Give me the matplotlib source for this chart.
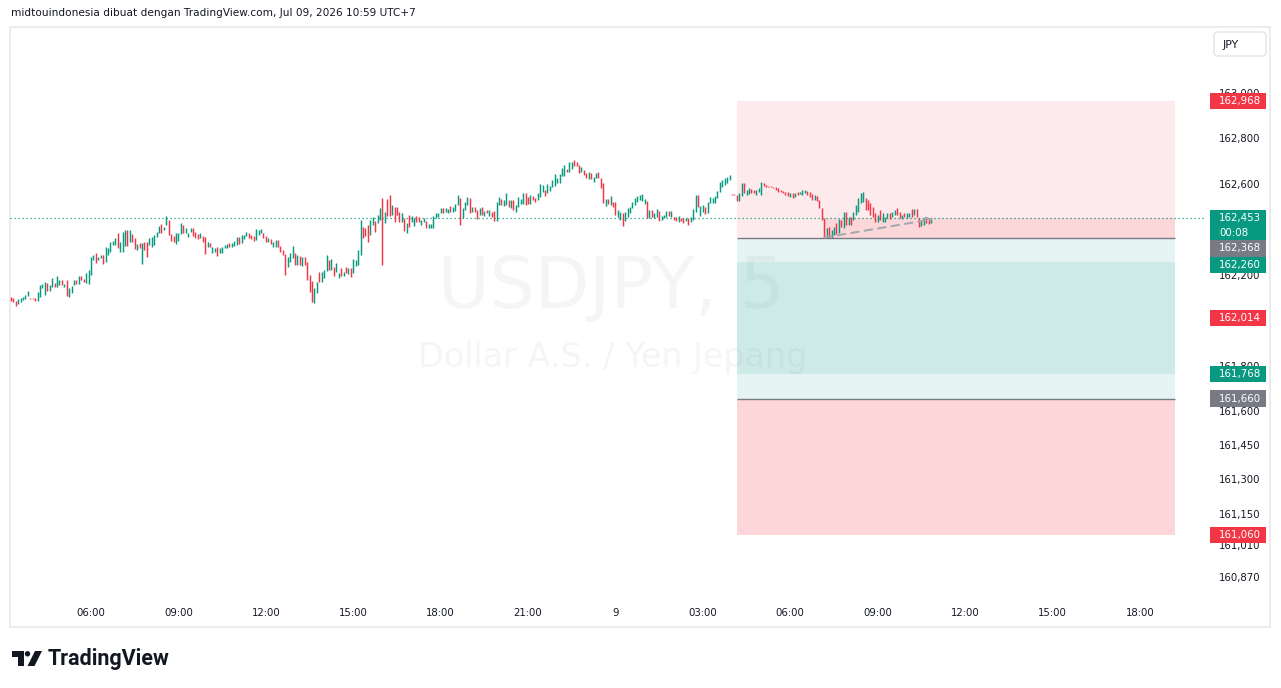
import numpy as np
import matplotlib.pyplot as plt
from matplotlib.patches import Rectangle, FancyBboxPatch, Polygon, Circle

plt.rcParams['font.family'] = ['DejaVu Sans']

W, H = 1281, 688
GREEN = '#089981'
RED = '#f23645'
GRAY = '#787b86'
TXT = '#131722'

# USDJPY 5 min bars, first bar Jul 08 03:15, price = 162 + pts / 1000
BASE = 162.0
oc = [
    (105, 90), (101, 83), (90, 69), (74, 96), (86, 101), (93, 108), (96, 115), (113, 133), (102, 99), (101, 96),
    (101, 90), (90, 127), (108, 159), (145, 162), (115, 174), (170, 133), (133, 159), (152, 192), (167, 152), (149, 199),
    (159, 181), (181, 159), (149, 164), (181, 113), (108, 145), (126, 155), (159, 181), (181, 164), (162, 199), (199, 181),
    (186, 174), (167, 211), (164, 225), (203, 284), (269, 291), (299, 255), (269, 284), (277, 291), (291, 250), (262, 328),
    (291, 321), (306, 350), (335, 353), (335, 367), (386, 321), (306, 350), (306, 394), (332, 401), (401, 332), (350, 401),
    (382, 350), (365, 316), (313, 340), (343, 321), (252, 343), (350, 313), (350, 284), (335, 365), (328, 372), (335, 379),
    (372, 394), (386, 420), (426, 389), (401, 416), (423, 463), (445, 379), (382, 353), (375, 350), (338, 386), (353, 386),
    (384, 433), (423, 386), (389, 408), (372, 389), (391, 408), (408, 376), (394, 365), (384, 362), (365, 386), (376, 350),
    (372, 294), (328, 350), (345, 328), (302, 328), (306, 321), (326, 288), (302, 321), (302, 328), (321, 335), (323, 338),
    (343, 328), (328, 345), (332, 353), (335, 372), (372, 338), (343, 379), (360, 379), (376, 391),
    # 11:30 - 19:30
    (386, 367), (379, 360), (376, 354), (357, 405), (379, 401), (386, 405), (386, 364), (376, 347), (347, 364), (361, 338),
    (328, 350), (328, 357), (357, 328), (331, 306), (313, 291), (294, 203), (240, 284), (262, 298), (279, 331), (298, 247),
    (247, 291), (287, 247), (244, 284), (284, 247), (259, 181), (203, 130), (177, 83), (79, 145), (123, 174), (215, 174),
    (171, 215), (189, 225), (221, 291), (269, 225), (225, 274), (240, 200), (215, 254), (189, 210), (235, 199), (200, 215),
    (240, 210), (206, 233), (233, 196), (210, 274), (244, 269), (247, 313), (291, 445), (416, 367), (411, 375), (423, 350),
    (379, 445), (423, 460), (441, 394), (430, 467), (445, 496), (540, 452), (433, 482), (537, 464), (555, 464), (467, 511),
    (504, 438), (504, 467), (482, 435), (435, 477), (452, 398), (389, 430), (467, 413), (438, 462), (419, 452), (462, 438),
    (460, 438), (423, 445), (438, 452), (442, 408), (408, 426), (408, 426), (411, 462), (452, 477), (460, 477), (474, 496),
    (496, 477), (482, 496), (474, 493), (508, 482), (482, 504), (484, 514), (511, 555), (540, 423), (452, 496), (489, 526),
    (511, 548), (543, 474), (482, 504), (504, 482), (489, 448), (467, 499), (504, 467),
    # 19:30 - 03:30
    (464, 486), (489, 474), (463, 489), (482, 460), (485, 441), (441, 526), (511, 545), (536, 511), (506, 533), (511, 565),
    (533, 504), (496, 533), (533, 489), (482, 511), (504, 548), (514, 536), (514, 565), (562, 511), (548, 514), (514, 555),
    (550, 533), (543, 524), (533, 565), (548, 602), (569, 599), (577, 552), (562, 602), (572, 594), (591, 621), (596, 647),
    (606, 630), (606, 647), (640, 672), (640, 687), (669, 657), (657, 698), (669, 698), (709, 684), (701, 684), (687, 653),
    (657, 679), (665, 643), (650, 631), (625, 654), (653, 625), (613, 635), (628, 653), (657, 628), (628, 587), (606, 518),
    (506, 536), (536, 515), (511, 550), (526, 504), (526, 467), (460, 489), (445, 482), (474, 420), (442, 482), (460, 496),
    (474, 501), (496, 526), (511, 540), (526, 550), (533, 555), (530, 559), (514, 536), (528, 455), (455, 489), (489, 460),
    (455, 474), (460, 493), (485, 442), (445, 464), (452, 467), (460, 485), (485, 464), (460, 485), (460, 445), (460, 441),
    (438, 463), (455, 441), (452, 433), (441, 455), (452, 423), (438, 457), (445, 492), (482, 555), (555, 504), (463, 506),
    (479, 511), (504, 471), (474, 526), (518, 548), (518, 543), (518, 550), (540, 572),
    # 03:35 - 10:55
    (570, 613), (591, 621), (599, 628), (606, 632), (621, 643), (559, 555), (558, 553), (555, 530), (530, 565), (550, 606),
    (606, 562), (555, 577), (558, 584), (580, 565), (577, 562), (555, 577), (570, 584), (555, 610), (606, 594), (599, 591),
    (596, 591), (594, 589), (591, 584), (589, 577), (584, 570), (577, 570), (572, 562), (570, 555), (567, 550), (547, 562),
    (562, 540), (547, 562), (570, 555), (559, 570), (555, 577), (562, 577), (574, 555), (570, 547), (559, 533), (533, 555),
    (550, 530), (533, 496), (496, 445), (452, 364), (364, 408), (416, 364), (364, 401), (379, 413), (430, 383), (386, 448),
    (445, 416), (408, 482), (482, 423), (423, 460), (460, 423), (445, 482), (467, 511), (482, 540), (518, 562), (525, 570),
    (540, 489), (533, 489), (518, 467), (503, 460), (474, 438), (438, 467), (489, 445), (438, 474), (438, 460), (452, 474),
    (474, 448), (460, 482), (467, 489), (496, 467), (482, 452), (448, 467), (477, 457), (452, 474), (457, 477), (492, 460),
    (467, 492), (493, 460), (452, 416), (419, 445), (423, 455), (452, 430), (455, 426), (430, 452),
]
wicks = {153: (247, 540)}  # long lower shadow at 15:30

tick_idx = [33 + 36 * k for k in range(13)]
tick_labels = ['06:00', '09:00', '12:00', '15:00', '18:00', '21:00', '9',
               '03:00', '06:00', '09:00', '12:00', '15:00', '18:00']
# 162,400 and 162,000 sit under the price tags, so they are left out
price_ticks = [163.0, 162.8, 162.6, 162.2, 161.8, 161.6,
               161.45, 161.3, 161.15, 161.01, 160.87]

last_price = 162.453
countdown = '00:08'
short_entry, short_stop, short_target = 162.368, 162.968, 161.768
long_entry, long_target, long_stop = 161.660, 162.260, 161.060
alert_price = 162.014
pos_start, pos_end = 299, 479.5
trade_start = 335
proj_end = (380, 162.449)

y_top, y_bot = 163.2933, 160.7878
x_lo, x_hi = -0.37, 491.8

fig = plt.figure(figsize=(W / 100, H / 100), dpi=100)

deco = fig.add_axes([0, 0, 1, 1])
deco.set_xlim(0, W)
deco.set_ylim(H, 0)
deco.axis('off')

ax = fig.add_axes([10 / W, 1 - 597 / H, 1195 / W, 570 / H])
ax.set_xlim(x_lo, x_hi)
ax.set_ylim(y_bot, y_top)
ax.set_facecolor('none')
for s in ax.spines.values():
    s.set_visible(False)
ax.set_yticks([])
ax.set_xticks(tick_idx, tick_labels)
ax.tick_params(axis='x', length=0, pad=8, labelsize=7.3, labelcolor=TXT)

# watermark
ax.text(0.503, 0.542, 'USDJPY, 5', transform=ax.transAxes, ha='center', va='center',
        fontsize=51, color=TXT, alpha=0.04, zorder=0)
ax.text(0.504, 0.42, 'Dollar A.S. / Yen Jepang', transform=ax.transAxes, ha='center', va='center',
        fontsize=24, color=TXT, alpha=0.04, zorder=0)

# position tools
def zone(y0, y1, color, alpha, x0=pos_start):
    ax.add_patch(Rectangle((x0, min(y0, y1)), pos_end - x0, abs(y1 - y0), facecolor=color,
                           alpha=alpha, edgecolor='none', zorder=1))

zone(short_entry, short_stop, RED, 0.1)
zone(short_entry, short_target, GREEN, 0.1)
zone(long_entry, long_target, GREEN, 0.1)
zone(long_entry, long_stop, RED, 0.2)
zone(short_entry, last_price, RED, 0.1, x0=trade_start)
ax.hlines([short_entry, long_entry], pos_start, pos_end, color=GRAY, lw=1, zorder=2)

# candles
arr = np.array(oc, dtype=float)
o = BASE + arr[:, 0] / 1000
c = BASE + arr[:, 1] / 1000
x = np.arange(len(oc))
lo = np.minimum(o, c)
hi = np.maximum(o, c)
for i, (l, h) in wicks.items():
    lo[i] = BASE + l / 1000
    hi[i] = BASE + h / 1000
hi = np.maximum(hi, lo + 0.004)
up = c >= o
ax.vlines(x[up], lo[up], hi[up], color=GREEN, lw=1.05, zorder=3)
ax.vlines(x[~up], lo[~up], hi[~up], color=RED, lw=1.05, zorder=3)

# last price line
ax.axhline(last_price, color=GREEN, lw=0.9, ls=(0, (1, 2.2)), zorder=2)

# projection
ax.annotate('', xy=proj_end, xytext=(trade_start, short_entry),
            arrowprops=dict(arrowstyle='->', color='#a3a6af', lw=1.4, ls=(0, (4, 3)),
                            shrinkA=0, shrinkB=0), zorder=4)

# price scale
pax = fig.add_axes([1205 / W, 1 - 597 / H, 65 / W, 570 / H])
pax.set_xlim(0, 65)
pax.set_ylim(y_bot, y_top)
pax.axis('off')
for p in price_ticks:
    pax.text(14, p, f'{p:.3f}'.replace('.', ','), fontsize=7.3, color=TXT, va='center', ha='left')

ppx = 227.5  # pixels per yen
labels = [(short_stop, RED, None), (last_price, GREEN, countdown), (short_entry, GRAY, None),
          (long_target, GREEN, None), (alert_price, RED, None), (short_target, GREEN, None),
          (long_entry, GRAY, None), (long_stop, RED, None)]
prev_bottom = None
for val, col, extra in labels:
    yc = val
    top = yc + 8.35 / ppx
    if prev_bottom is not None and top > prev_bottom:
        yc -= (top - prev_bottom)
        top = prev_bottom
    h = (30 if extra else 16.7) / ppx
    pax.add_patch(Rectangle((5, top - h), 56, h, facecolor=col, edgecolor='none', zorder=5))
    pax.text(14, yc, f'{val:.3f}'.replace('.', ','), fontsize=7.4, color='white',
             va='center', ha='left', zorder=6)
    if extra:
        pax.text(14, yc - 14.5 / ppx, extra, fontsize=7.4, color='white', va='center', ha='left', zorder=6)
    prev_bottom = top - h

# frame, header, currency button, logo
deco.add_patch(Rectangle((10, 27), 1260, 600, facecolor='none', edgecolor='#ececec', lw=1.5))
deco.text(11, 13, 'midtouindonesia dibuat dengan TradingView.com, Jul 09, 2026 10:59 UTC+7',
          fontsize=7.6, color=TXT, va='center', ha='left')
deco.add_patch(FancyBboxPatch((1214, 32), 52, 24, boxstyle='round,pad=0,rounding_size=4',
                              facecolor='white', edgecolor='#e0e3eb', lw=1))
deco.text(1222, 44.5, 'JPY', fontsize=7.8, color=TXT, va='center', ha='left')

deco.add_patch(Polygon([(12, 651), (23.5, 651), (23.5, 666), (18, 666), (18, 656.5), (12, 656.5)],
                       closed=True, facecolor=TXT, edgecolor='none'))
deco.add_patch(Circle((27.5, 653.8), 2.7, facecolor=TXT, edgecolor='none'))
deco.add_patch(Polygon([(35, 651), (42, 651), (34.5, 666), (27.5, 666)], closed=True,
                       facecolor=TXT, edgecolor='none'))
deco.text(48, 658.5, 'TradingView', fontsize=15.5, fontweight='bold', color=TXT,
          va='center', ha='left', family=['Roboto', 'DejaVu Sans'])

fig.savefig('out.png', dpi=100)
